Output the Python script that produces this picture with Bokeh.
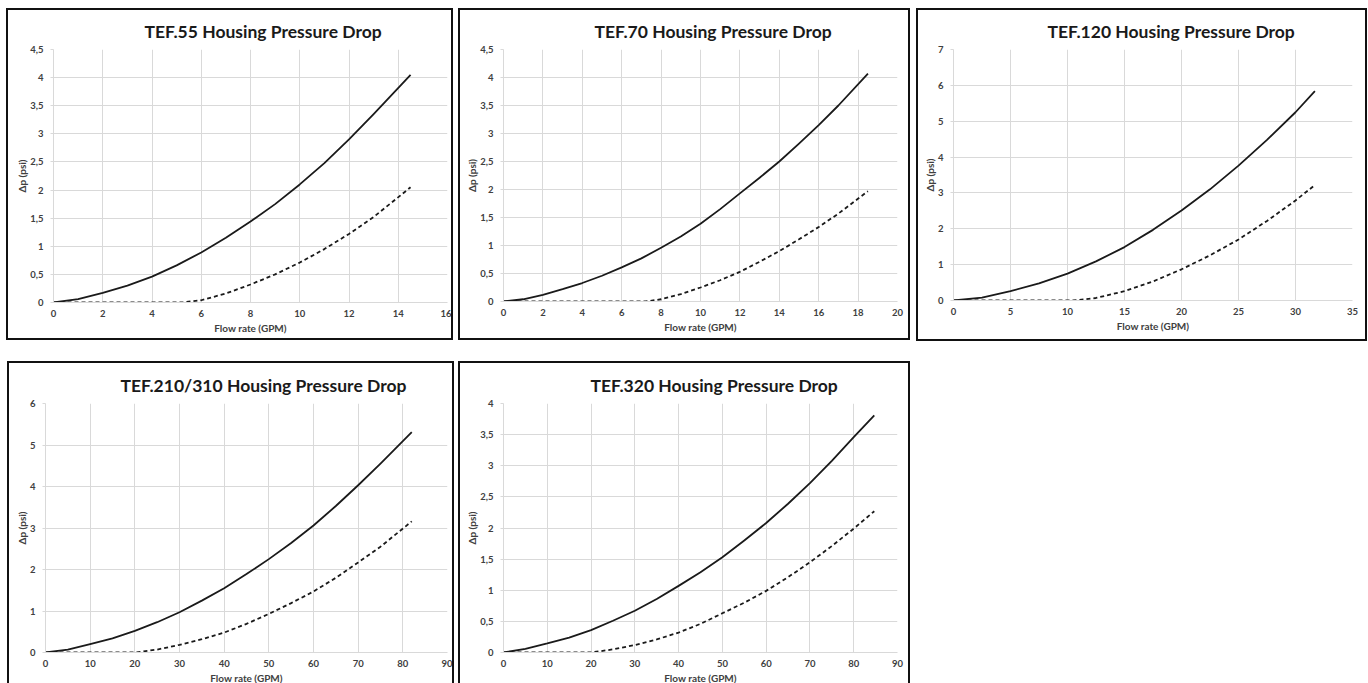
from bokeh.plotting import figure
from bokeh.models import Range1d, FixedTicker, Spacer
from bokeh.layouts import row, column
from bokeh.embed import file_html
from bokeh.resources import INLINE

FONT = "Lato"

# ---------------- data ----------------
titles = ["TEF.55 Housing Pressure Drop", "TEF.70 Housing Pressure Drop",
          "TEF.120 Housing Pressure Drop", "TEF.210/310 Housing Pressure Drop",
          "TEF.320 Housing Pressure Drop"]
x_label = "Flow rate (GPM)"
y_label = "Δp (psi)"

# TEF.55
tef55_solid_x = [0, 1, 2, 3, 4, 5, 6, 7, 8, 9, 10, 11, 12, 13, 14.5]
tef55_solid_y = [0, 0.06, 0.17, 0.30, 0.46, 0.66, 0.89, 1.15, 1.44, 1.75, 2.10, 2.48, 2.90, 3.35, 4.05]
tef55_dash_x = [0, 5.2, 6, 7, 8, 9, 10, 11, 12, 13, 14.5]
tef55_dash_y = [0, 0, 0.04, 0.16, 0.32, 0.50, 0.71, 0.95, 1.22, 1.52, 2.05]
tef55_xticks = [0, 2, 4, 6, 8, 10, 12, 14, 16]
tef55_yticks = [0, 0.5, 1, 1.5, 2, 2.5, 3, 3.5, 4, 4.5]
tef55_yticklabels = ["0", "0,5", "1", "1,5", "2", "2,5", "3", "3,5", "4", "4,5"]

# TEF.70
tef70_solid_x = [0, 1, 2, 3, 4, 5, 6, 7, 8, 9, 10, 11, 12, 13, 14, 15, 16, 17, 18.5]
tef70_solid_y = [0, 0.04, 0.12, 0.22, 0.33, 0.46, 0.61, 0.77, 0.96, 1.16, 1.39, 1.65, 1.93, 2.21, 2.50, 2.82, 3.15, 3.50, 4.07]
tef70_dash_x = [0, 7.2, 8, 9, 10, 11, 12, 13, 14, 15, 16, 17, 18.5]
tef70_dash_y = [0, 0, 0.04, 0.13, 0.25, 0.38, 0.53, 0.71, 0.90, 1.11, 1.33, 1.57, 1.97]
tef70_xticks = [0, 2, 4, 6, 8, 10, 12, 14, 16, 18, 20]
tef70_yticks = [0, 0.5, 1, 1.5, 2, 2.5, 3, 3.5, 4, 4.5]
tef70_yticklabels = ["0", "0,5", "1", "1,5", "2", "2,5", "3", "3,5", "4", "4,5"]

# TEF.120
tef120_solid_x = [0, 2.5, 5, 7.5, 10, 12.5, 15, 17.5, 20, 22.5, 25, 27.5, 30, 31.7]
tef120_solid_y = [0, 0.08, 0.26, 0.48, 0.75, 1.09, 1.49, 1.97, 2.51, 3.10, 3.76, 4.48, 5.25, 5.84]
tef120_dash_x = [0, 10.5, 12.5, 15, 17.5, 20, 22.5, 25, 27.5, 30, 31.7]
tef120_dash_y = [0, 0, 0.07, 0.26, 0.53, 0.87, 1.26, 1.70, 2.22, 2.79, 3.22]
tef120_xticks = [0, 5, 10, 15, 20, 25, 30, 35]
tef120_yticks = [0, 1, 2, 3, 4, 5, 6, 7]
tef120_yticklabels = ["0", "1", "2", "3", "4", "5", "6", "7"]

# TEF.210/310
tef210_solid_x = [0, 5, 10, 15, 20, 25, 30, 35, 40, 45, 50, 55, 60, 65, 70, 75, 82]
tef210_solid_y = [0, 0.07, 0.20, 0.34, 0.52, 0.73, 0.97, 1.25, 1.55, 1.89, 2.25, 2.64, 3.06, 3.53, 4.03, 4.55, 5.31]
tef210_dash_x = [0, 20, 25, 30, 35, 40, 45, 50, 55, 60, 65, 70, 75, 82]
tef210_dash_y = [0, 0, 0.07, 0.185, 0.32, 0.48, 0.69, 0.93, 1.19, 1.47, 1.80, 2.17, 2.55, 3.16]
tef210_xticks = [0, 10, 20, 30, 40, 50, 60, 70, 80, 90]
tef210_yticks = [0, 1, 2, 3, 4, 5, 6]
tef210_yticklabels = ["0", "1", "2", "3", "4", "5", "6"]

# TEF.320
tef320_solid_x = [0, 5, 10, 15, 20, 25, 30, 35, 40, 45, 50, 55, 60, 65, 70, 75, 80, 84.7]
tef320_solid_y = [0, 0.06, 0.145, 0.24, 0.36, 0.51, 0.67, 0.86, 1.07, 1.29, 1.53, 1.80, 2.08, 2.39, 2.72, 3.08, 3.46, 3.81]
tef320_dash_x = [0, 20, 25, 30, 35, 40, 45, 50, 55, 60, 65, 70, 75, 80, 84.7]
tef320_dash_y = [0, 0, 0.05, 0.12, 0.21, 0.32, 0.46, 0.63, 0.80, 0.99, 1.21, 1.45, 1.71, 1.99, 2.27]
tef320_xticks = [0, 10, 20, 30, 40, 50, 60, 70, 80, 90]
tef320_yticks = [0, 0.5, 1, 1.5, 2, 2.5, 3, 3.5, 4]
tef320_yticklabels = ["0", "0,5", "1", "1,5", "2", "2,5", "3", "3,5", "4"]


def make_panel(title, sx, sy, dx, dy, xticks, yticks, ylabels,
               fw, fh, bl, br, bt, bb, title_left, bottom_border=True):
    p = figure(output_backend="svg", toolbar_location=None,
               frame_width=fw, frame_height=fh,
               x_range=Range1d(xticks[0], xticks[-1]),
               y_range=Range1d(yticks[0], yticks[-1]),
               min_border_left=bl, min_border_right=br,
               min_border_top=bt, min_border_bottom=bb,
               background_fill_color="white", border_fill_color="white")
    p.outline_line_color = None
    border = "2px solid #111111"
    st = {"border-left": border, "border-right": border, "border-top": border}
    if bottom_border:
        st["border-bottom"] = border
    p.styles = st

    p.title.text = title
    p.title.align = "left"
    p.title.offset = title_left
    p.title.vertical_align = "bottom"
    p.title.standoff = 16
    p.title.text_font = FONT
    p.title.text_font_style = "bold"
    p.title.text_font_size = "17.5px"
    p.title.text_color = "#1a1a1a"

    p.xaxis.ticker = FixedTicker(ticks=xticks)
    p.yaxis.ticker = FixedTicker(ticks=yticks)
    p.yaxis.major_label_overrides = {t: l for t, l in zip(yticks, ylabels)}
    p.xaxis.major_label_overrides = {t: str(t) for t in xticks}

    for ax in (p.xaxis, p.yaxis):
        ax.axis_line_color = "#d9d9d9"
        ax.minor_tick_line_color = None
        ax.major_label_text_font = FONT
        ax.major_label_text_font_style = "bold"
        ax.major_label_text_font_size = "9.5px"
        ax.major_label_text_color = "#404040"
        ax.axis_label_text_font = FONT
        ax.axis_label_text_font_style = "bold"
        ax.axis_label_text_font_size = "10px"
        ax.axis_label_text_color = "#404040"
    p.xaxis.major_tick_line_color = None
    p.xaxis.major_tick_out = 0
    p.xaxis.major_tick_in = 0
    p.xaxis.major_label_standoff = 7
    p.xaxis.axis_label = x_label
    p.xaxis.axis_label_standoff = 2
    p.yaxis.major_tick_line_color = "#d9d9d9"
    p.yaxis.major_tick_out = 3
    p.yaxis.major_tick_in = 0
    p.yaxis.major_label_standoff = 7
    p.yaxis.axis_label = y_label
    p.yaxis.axis_label_standoff = -1

    p.xgrid.grid_line_color = "#d9d9d9"
    p.ygrid.grid_line_color = "#d9d9d9"

    p.line(sx, sy, line_color="#1a1a1a", line_width=1.8, line_join="round")
    p.line(dx, dy, line_color="#1a1a1a", line_width=1.8, line_dash="4 3")
    return p


p1 = make_panel(titles[0], tef55_solid_x, tef55_solid_y, tef55_dash_x, tef55_dash_y,
                tef55_xticks, tef55_yticks, tef55_yticklabels,
                390, 249, 45, 8, 39, 40, 91)
p2 = make_panel(titles[1], tef70_solid_x, tef70_solid_y, tef70_dash_x, tef70_dash_y,
                tef70_xticks, tef70_yticks, tef70_yticklabels,
                390, 248, 43, 15, 39, 41, 91)
p3 = make_panel(titles[2], tef120_solid_x, tef120_solid_y, tef120_dash_x, tef120_dash_y,
                tef120_xticks, tef120_yticks, tef120_yticklabels,
                395, 247, 35, 17, 38, 43, 94)
p4 = make_panel(titles[3], tef210_solid_x, tef210_solid_y, tef210_dash_x, tef210_dash_y,
                tef210_xticks, tef210_yticks, tef210_yticklabels,
                398, 247, 36, 9, 40, 33, 75, bottom_border=False)
p5 = make_panel(titles[4], tef320_solid_x, tef320_solid_y, tef320_dash_x, tef320_dash_y,
                tef320_xticks, tef320_yticks, tef320_yticklabels,
                390, 247, 43, 15, 40, 33, 87, bottom_border=False)

layout = column(
    Spacer(height=8),
    row(Spacer(width=6), p1, Spacer(width=5), p2, Spacer(width=6), p3),
    Spacer(height=20),
    row(Spacer(width=7), p4, Spacer(width=4), p5),
)

open("out.html", "w").write(file_html(layout, INLINE))
